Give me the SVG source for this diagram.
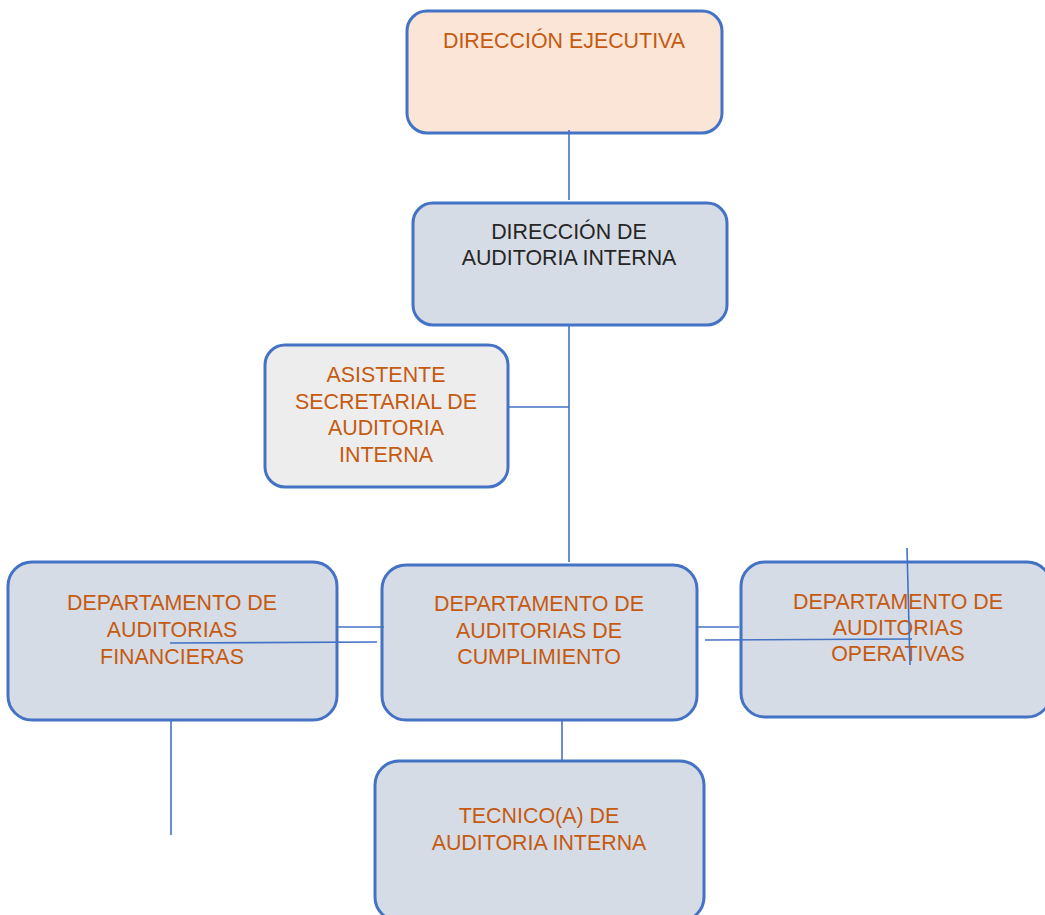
<svg xmlns="http://www.w3.org/2000/svg" width="1045" height="915" viewBox="0 0 1045 915">
<style>
.box{stroke:#4472C4;stroke-width:3}
.blue{fill:#D6DCE5}
.t{font-family:"Liberation Sans",Arial,sans-serif;font-size:21.4px;text-anchor:middle;fill:#C55A11}
.dark{fill:#262626}
.c{stroke:#4472C4;stroke-width:1.6;fill:none}
</style>
<rect width="1045" height="915" fill="#ffffff"/>
<g id="n1">
<rect class="box" x="407" y="11" width="315" height="122" rx="20" fill="#FBE5D6"/>
<text class="t" x="564" y="48">DIRECCIÓN EJECUTIVA</text>
</g>
<g id="n2">
<rect class="box blue" x="413" y="203" width="314" height="122" rx="20"/>
<text class="t dark" x="569" y="239">DIRECCIÓN DE</text>
<text class="t dark" x="569" y="265">AUDITORIA INTERNA</text>
</g>
<g id="n3">
<rect class="box" x="265" y="345" width="243" height="142" rx="20" fill="#EDEDED"/>
<text class="t" x="386" y="382">ASISTENTE</text>
<text class="t" x="386" y="409">SECRETARIAL DE</text>
<text class="t" x="386" y="435">AUDITORIA</text>
<text class="t" x="386" y="462">INTERNA</text>
</g>
<g id="n4">
<rect class="box blue" x="8" y="562" width="329" height="158" rx="24"/>
<text class="t" x="172" y="610">DEPARTAMENTO DE</text>
<text class="t" x="172" y="637">AUDITORIAS</text>
<text class="t" x="172" y="664">FINANCIERAS</text>
</g>
<g id="n5">
<rect class="box blue" x="382" y="565" width="315" height="155" rx="24"/>
<text class="t" x="539" y="611">DEPARTAMENTO DE</text>
<text class="t" x="539" y="638">AUDITORIAS DE</text>
<text class="t" x="539" y="664">CUMPLIMIENTO</text>
</g>
<g id="n6">
<rect class="box blue" x="741" y="562" width="310" height="155" rx="24"/>
<text class="t" x="898" y="609">DEPARTAMENTO DE</text>
<text class="t" x="898" y="635">AUDITORIAS</text>
<text class="t" x="898" y="661">OPERATIVAS</text>
</g>
<g id="n7">
<rect class="box blue" x="375" y="761" width="329" height="160" rx="24"/>
<text class="t" x="539" y="823">TECNICO(A) DE</text>
<text class="t" x="539" y="850">AUDITORIA INTERNA</text>
</g>
<g id="connectors">
<line class="c" x1="569" y1="130" x2="569" y2="200"/>
<line class="c" x1="569" y1="326" x2="569" y2="562"/>
<line class="c" x1="509" y1="407" x2="569" y2="407"/>
<line class="c" x1="338" y1="627" x2="384" y2="627"/>
<line class="c" x1="170" y1="643" x2="377" y2="642"/>
<line class="c" x1="698" y1="627" x2="739" y2="627"/>
<line class="c" x1="705" y1="640" x2="912" y2="639"/>
<line class="c" x1="907" y1="548" x2="910" y2="665"/>
<line class="c" x1="562" y1="721" x2="562" y2="760"/>
<line class="c" x1="171" y1="721" x2="171" y2="835"/>
</g>
</svg>
